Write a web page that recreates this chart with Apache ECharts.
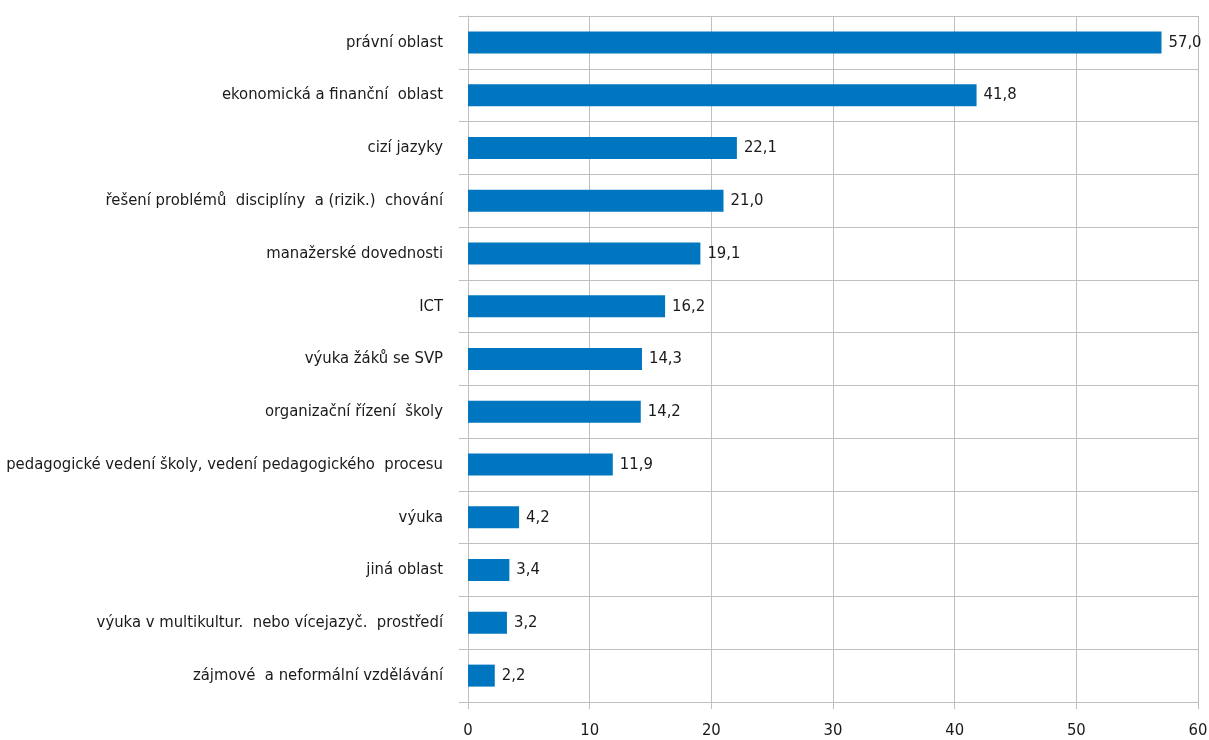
<!DOCTYPE html>
<html>
<head>
<meta charset="utf-8">
<script src="https://cdn.jsdelivr.net/npm/echarts@6/dist/echarts.min.js"></script>
<style>
html, body { margin: 0; padding: 0; background: #fff; }
#chart { width: 1209px; height: 740px; }
</style>
</head>
<body>
<div id="chart"></div>
<script>
// categories listed bottom-to-top (category axis starts at bottom)
var categories = [
    'zájmové  a neformální vzdělávání',
    'výuka v multikultur.  nebo vícejazyč.  prostředí',
    'jiná oblast',
    'výuka',
    'pedagogické vedení školy, vedení pedagogického  procesu',
    'organizační řízení  školy',
    'výuka žáků se SVP',
    'ICT',
    'manažerské dovednosti',
    'řešení problémů  disciplíny  a (rizik.)  chování',
    'cizí jazyky',
    'ekonomická a finanční  oblast',
    'právní oblast'
];
var values = [2.2, 3.2, 3.4, 4.2, 11.9, 14.2, 14.3, 16.2, 19.1, 21.0, 22.1, 41.8, 57.0];
var xTicks = [0, 10, 20, 30, 40, 50, 60];

var font = '"Liberation Sans Narrow", "DejaVu Sans Condensed", sans-serif';

var chart = echarts.init(document.getElementById('chart'));
var option = {
    animation: false,
    grid: { left: 468, right: 11, top: 16, bottom: 38, containLabel: false, outerBoundsMode: 'none' },
    xAxis: {
        type: 'value',
        min: xTicks[0],
        max: xTicks[xTicks.length - 1],
        interval: 10,
        axisLine: { show: false },
        axisTick: { show: true, length: 7, lineStyle: { color: '#bfbfbf' } },
        splitLine: { show: true, lineStyle: { color: '#bfbfbf', width: 1 } },
        axisLabel: { color: '#1a1a1a', fontFamily: font, fontSize: 16.5, margin: 20 }
    },
    yAxis: {
        type: 'category',
        data: categories,
        axisLine: { show: true, lineStyle: { color: '#bfbfbf' } },
        axisTick: { show: true, length: 9, lineStyle: { color: '#bfbfbf' } },
        splitLine: { show: true, lineStyle: { color: '#bfbfbf' } },
        axisLabel: { color: '#1a1a1a', fontFamily: font, fontSize: 16.5, margin: 25 }
    },
    series: [{
        type: 'bar',
        data: values,
        barWidth: 22,
        itemStyle: { color: '#0076c0' },
        label: {
            show: true,
            position: 'right',
            distance: 7,
            color: '#1a1a1a',
            fontFamily: font,
            fontSize: 16.5,
            formatter: function (p) { return p.value.toFixed(1).replace('.', ','); }
        }
    }]
};
chart.setOption(option);
</script>
</body>
</html>
